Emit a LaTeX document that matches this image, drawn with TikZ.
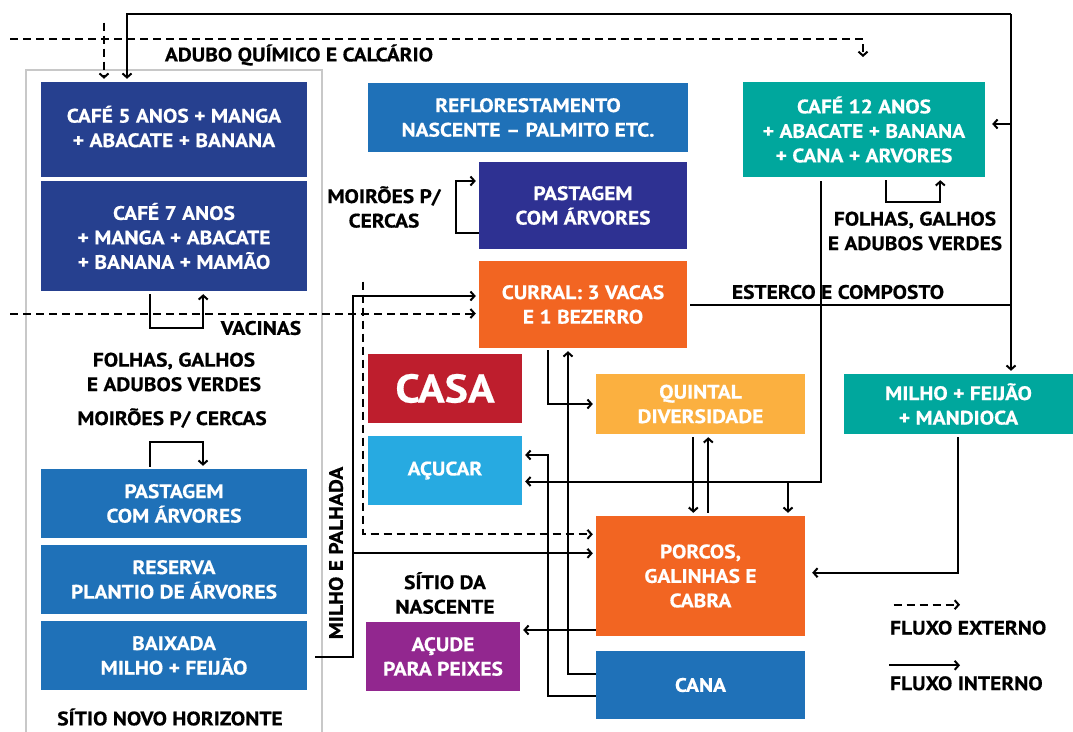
\documentclass[tikz,border=0pt]{standalone}
\usepackage{fontspec}
\setmainfont{PT Sans}[FakeStretch=1.1,BoldFeatures={FakeBold=0.5}]
\usetikzlibrary{arrows.meta,calc}
\definecolor{cDark}{RGB}{38,64,143}
\definecolor{cIndigo}{RGB}{46,49,146}
\definecolor{cMid}{RGB}{31,113,184}
\definecolor{cTeal}{RGB}{0,167,157}
\definecolor{cOrange}{RGB}{242,101,34}
\definecolor{cRed}{RGB}{190,30,45}
\definecolor{cLight}{RGB}{39,170,225}
\definecolor{cYellow}{RGB}{251,176,64}
\definecolor{cPurple}{RGB}{146,39,143}
\definecolor{cFrame}{RGB}{200,200,200}
\begin{document}
\begin{tikzpicture}[x=1pt,y=-1pt,
  box/.style={draw=none,fill=#1,text=white,font=\bfseries\fontsize{19.5}{24.5}\selectfont,align=center,inner sep=0pt},
  lbl/.style={font=\bfseries\fontsize{19.5}{24.5}\selectfont,align=center,inner sep=0pt},
  line/.style={line width=2pt},
  flow/.style={line width=2pt,-{Straight Barb[length=4pt,width=9pt]},shorten >=3pt},
  ext/.style={flow,dash pattern=on 8pt off 5pt},
]
\useasboundingbox (0,0) rectangle (1073,731);
% frame
\node[draw=cFrame,line width=1.2pt,minimum width=296pt,minimum height=680pt,inner sep=0pt] (frame) at (174,410) {};
% boxes
\node[box=cDark,minimum width=266pt,minimum height=95pt] (cafe5) at (174,129.5) {CAFÉ 5 ANOS + MANGA\\+ ABACATE + BANANA\vspace{6pt}};
\node[box=cDark,minimum width=266pt,minimum height=110pt] (cafe7) at (174,236) {CAFÉ 7 ANOS\\+ MANGA + ABACATE\\+ BANANA + MAMÃO};
\node[box=cMid,minimum width=266pt,minimum height=69pt] (pastL) at (174,503.5) {PASTAGEM\\COM ÁRVORES};
\node[box=cMid,minimum width=266pt,minimum height=69pt] (reserva) at (174,579.5) {RESERVA\\PLANTIO DE ÁRVORES};
\node[box=cMid,minimum width=266pt,minimum height=69pt] (baixada) at (174,655.5) {BAIXADA\\MILHO + FEIJÃO};
\node[box=cMid,minimum width=320pt,minimum height=69pt] (reflo) at (528,117.5) {REFLORESTAMENTO\\NASCENTE – PALMITO ETC.};
\node[box=cTeal,minimum width=242pt,minimum height=95pt] (cafe12) at (864,129.5) {CAFÉ 12 ANOS\\+ ABACATE + BANANA\\+ CANA + ARVORES};
\node[box=cIndigo,minimum width=208pt,minimum height=87pt] (pastU) at (583,205.5) {PASTAGEM\\COM ÁRVORES};
\node[box=cOrange,minimum width=208pt,minimum height=87pt] (curral) at (583,304.5) {CURRAL: 3 VACAS\\E 1 BEZERRO};
\node[box=cRed,minimum width=154pt,minimum height=69pt,font=\bfseries\fontsize{40}{42}\selectfont] (casa) at (445,388.5) {CASA};
\node[box=cLight,minimum width=154pt,minimum height=69pt] (acucar) at (445,470.5) {AÇUCAR};
\node[box=cYellow,minimum width=209pt,minimum height=60pt] (quintal) at (700.5,404) {QUINTAL\\DIVERSIDADE};
\node[box=cTeal,minimum width=229pt,minimum height=60pt] (milho) at (958.5,404) {MILHO + FEIJÃO\\+ MANDIOCA};
\node[box=cOrange,minimum width=209pt,minimum height=120pt] (porcos) at (700.5,576) {PORCOS,\\GALINHAS E\\CABRA};
\node[box=cMid,minimum width=209pt,minimum height=68pt] (cana) at (700.5,685) {CANA};
\node[box=cPurple,minimum width=154pt,minimum height=69pt] (acude) at (443,656.5) {AÇUDE\\PARA PEIXES};
% labels
\node[lbl] (tAdubo) at (299,55) {ADUBO QUÍMICO E CALCÁRIO};
\node[lbl] (tMoiU) at (384,207) {MOIRÕES P/\\CERCAS};
\node[lbl] (tVac) at (261,328) {VACINAS};
\node[lbl] (tFolL) at (174,372) {FOLHAS, GALHOS\\E ADUBOS VERDES};
\node[lbl] (tMoiL) at (172,418) {MOIRÕES P/ CERCAS};
\node[lbl] (tSNH) at (170,717) {SÍTIO NOVO HORIZONTE};
\node[lbl,rotate=90] (tMP) at (336,553) {MILHO E PALHADA};
\node[lbl] (tSDN) at (445,593) {SÍTIO DA\\NASCENTE};
\node[lbl] (tEst) at (838,292) {ESTERCO E COMPOSTO};
\node[lbl] (tFolR) at (915,231) {FOLHAS, GALHOS\\E ADUBOS VERDES};
\node[lbl,anchor=west] (tFE) at (890,627.7) {FLUXO EXTERNO};
\node[lbl,anchor=west] (tFI) at (890,683.3) {FLUXO INTERNO};
% coordinates
\coordinate (busR) at (1011,14);
\coordinate (topL) at (127,14);
\coordinate (c12in) at ($(cafe12.east)+(0,-5.5)$);
\coordinate (extA) at (10,39.3);
\coordinate (extEnd) at (863,57);
\coordinate (extC) at (104,22.7);
\coordinate (extD) at (10,313.5);
\coordinate (extE) at (363.3,281.7);
\coordinate (extF) at (363.3,534.3);
\coordinate (mpB) at (353,657);
\coordinate (mpT) at (353,296);
\coordinate (mpM) at (353,553.3);
\coordinate (cq) at (548.3,404);
\coordinate (cc) at (568,674.3);
\coordinate (ca1) at (548,695.7);
\coordinate (ca2) at (548,455);
\coordinate (c12a) at (821.3,481.5);
\coordinate (c12b) at (788,481.5);
\coordinate (qp1) at (693.3,0);
\coordinate (qp2) at (708.3,0);
\coordinate (mp) at (957.7,572.7);
\coordinate (pa) at (594,630);
\coordinate (l7) at (150,328.3);
\coordinate (l7b) at (203.2,328.3);
\coordinate (lp) at (150,441.7);
\coordinate (lpb) at (203,441.7);
\coordinate (lu) at (456.3,233.3);
\coordinate (lub) at (456.3,181);
\coordinate (l12) at (886,201.7);
\coordinate (l12b) at (940.3,201.7);
\coordinate (lg1) at (893.7,604.7);
\coordinate (lg2) at (960,604.7);
\coordinate (lg3) at (889,665.3);
\coordinate (lg4) at (960,665.3);
% internal flows
\draw[line,shorten <=3pt] (curral.east) -- (curral.east -| busR);
\draw[flow] (busR) -- (busR |- milho.north);
\draw[flow] (busR) -- (topL) -- (topL |- cafe5.north);
\draw[flow,shorten >=7pt] (c12in -| busR) -- (c12in);
\draw[flow,shorten <=8pt] (mpB -| baixada.east) -- (mpB) -- (mpT) -- (mpT -| curral.west);
\draw[flow] (mpM) -- (mpM -| porcos.west);
\draw[flow,shorten <=2pt] (cq |- curral.south) -- (cq) -- (cq -| quintal.west);
\draw[flow] (cc -| cana.west) -- (cc) -- (cc |- curral.south);
\draw[flow] (ca1 -| cana.west) -- (ca1) -- (ca2) -- (ca2 -| acucar.east);
\draw[flow,shorten <=4pt] (c12a |- cafe12.south) -- (c12a) -- (c12a -| acucar.east);
\draw[flow] (c12b) -- (c12b |- porcos.north);
\draw[flow,shorten <=3pt] (qp1 |- quintal.south) -- (qp1 |- porcos.north);
\draw[flow,shorten <=3pt] (qp2 |- porcos.north) -- (qp2 |- quintal.south);
\draw[flow,shorten <=3pt,shorten >=7pt] (mp |- milho.south) -- (mp) -- (mp -| porcos.east);
\draw[flow] (pa -| porcos.west) -- (pa -| acude.east);
\draw[flow,shorten <=3pt] (l7 |- cafe7.south) -- (l7) -- (l7b) -- (l7b |- cafe7.south);
\draw[flow,shorten <=2pt] (lp |- pastL.north) -- (lp) -- (lpb) -- (lpb |- pastL.north);
\draw[flow] (lu -| pastU.west) -- (lu) -- (lub) -- (lub -| pastU.west);
\draw[flow,shorten <=3pt] (l12 |- cafe12.south) -- (l12) -- (l12b) -- (l12b |- cafe12.south);
% external flows
\draw[ext,shorten >=0pt] (extA) -- (extA -| extEnd) -- (extEnd);
\draw[ext] (extC) -- (extC |- cafe5.north);
\draw[ext] (extD) -- (extD -| curral.west);
\draw[ext] (extE) -- (extF) -- (extF -| porcos.west);
% legend
\draw[ext,shorten >=0pt] (lg1) -- (lg2);
\draw[flow,shorten >=0pt] (lg3) -- (lg4);
\end{tikzpicture}
\end{document}
